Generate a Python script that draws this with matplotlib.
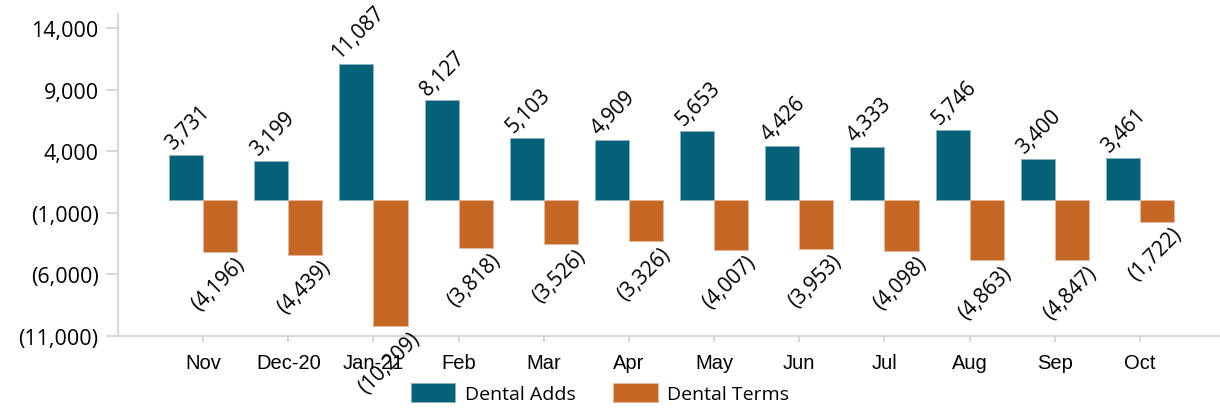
import matplotlib
matplotlib.use("Agg")
import matplotlib.pyplot as plt
import numpy as np

months = ["Nov", "Dec-20", "Jan-21", "Feb", "Mar", "Apr", "May", "Jun", "Jul", "Aug", "Sep", "Oct"]
dental_adds = [3731, 3199, 11087, 8127, 5103, 4909, 5653, 4426, 4333, 5746, 3400, 3461]
dental_terms = [-4196, -4439, -10209, -3818, -3526, -3326, -4007, -3953, -4098, -4863, -4847, -1722]
y_ticks = [14000, 9000, 4000, -1000, -6000, -11000]

TEAL = "#046178"
ORANGE = "#C56826"
GRID = "#D9D9D9"
MAIN_FONT = ['Open Sans', 'DejaVu Sans']
XFONT = ['Liberation Sans', 'DejaVu Sans']

plt.rcParams['font.family'] = MAIN_FONT

fig = plt.figure(figsize=(12.2, 4.1), dpi=100)
ax = fig.add_axes([118/1220, 1-337/410, 1-118/1220, (337-15)/410])

x = np.arange(len(months))
w = 0.4
b1 = ax.bar(x - w/2, dental_adds, width=w, color=TEAL, edgecolor="#8fb3c0", linewidth=0.6, label="Dental Adds")
b2 = ax.bar(x + w/2, dental_terms, width=w, color=ORANGE, edgecolor="#e8b89a", linewidth=0.6, label="Dental Terms")

def fmt(v):
    return f"({abs(v):,.0f})" if v < 0 else f"{v:,.0f}"

for xi, v in zip(x, dental_adds):
    ax.annotate(fmt(v), (xi - w/2, v), xytext=(1, 1), textcoords="offset points",
                rotation=45, ha="center", va="bottom", fontsize=15, color="black", family=MAIN_FONT)
for xi, v in zip(x, dental_terms):
    ax.annotate(fmt(v), (xi + w/2, v), xytext=(-1, -1), textcoords="offset points",
                rotation=45, ha="center", va="top", fontsize=15, color="black", family=MAIN_FONT)

ax.set_ylim(-11000, 15140)
ax.set_xlim(-1.0, 11.94)
ax.set_yticks(y_ticks)
ax.set_yticklabels([fmt(v) for v in y_ticks])
ax.set_xticks(x)
ax.set_xticklabels(months)

for s in ["top", "right"]:
    ax.spines[s].set_visible(False)
for s in ["left", "bottom"]:
    ax.spines[s].set_color(GRID)
    ax.spines[s].set_linewidth(1.6)

ax.tick_params(axis="y", length=9, width=1.5, color=GRID, pad=5, labelcolor="black")
ax.tick_params(axis="x", length=4, width=1.5, color=GRID, pad=8, labelcolor="black")
for lbl in ax.get_yticklabels():
    lbl.set_fontfamily(MAIN_FONT)
    lbl.set_fontsize(15.5)
for lbl in ax.get_xticklabels():
    lbl.set_fontfamily(XFONT)
    lbl.set_fontsize(14.5)

leg = fig.legend(handles=[b1, b2], labels=["Dental Adds", "Dental Terms"], loc="center",
                 bbox_to_anchor=(600/1220, 1-394/410), ncol=2, frameon=False,
                 prop={'family': MAIN_FONT, 'size': 14},
                 handlelength=2.3, handleheight=1.13, columnspacing=1.9, handletextpad=0.5)

fig.savefig("out.png", dpi=100)
